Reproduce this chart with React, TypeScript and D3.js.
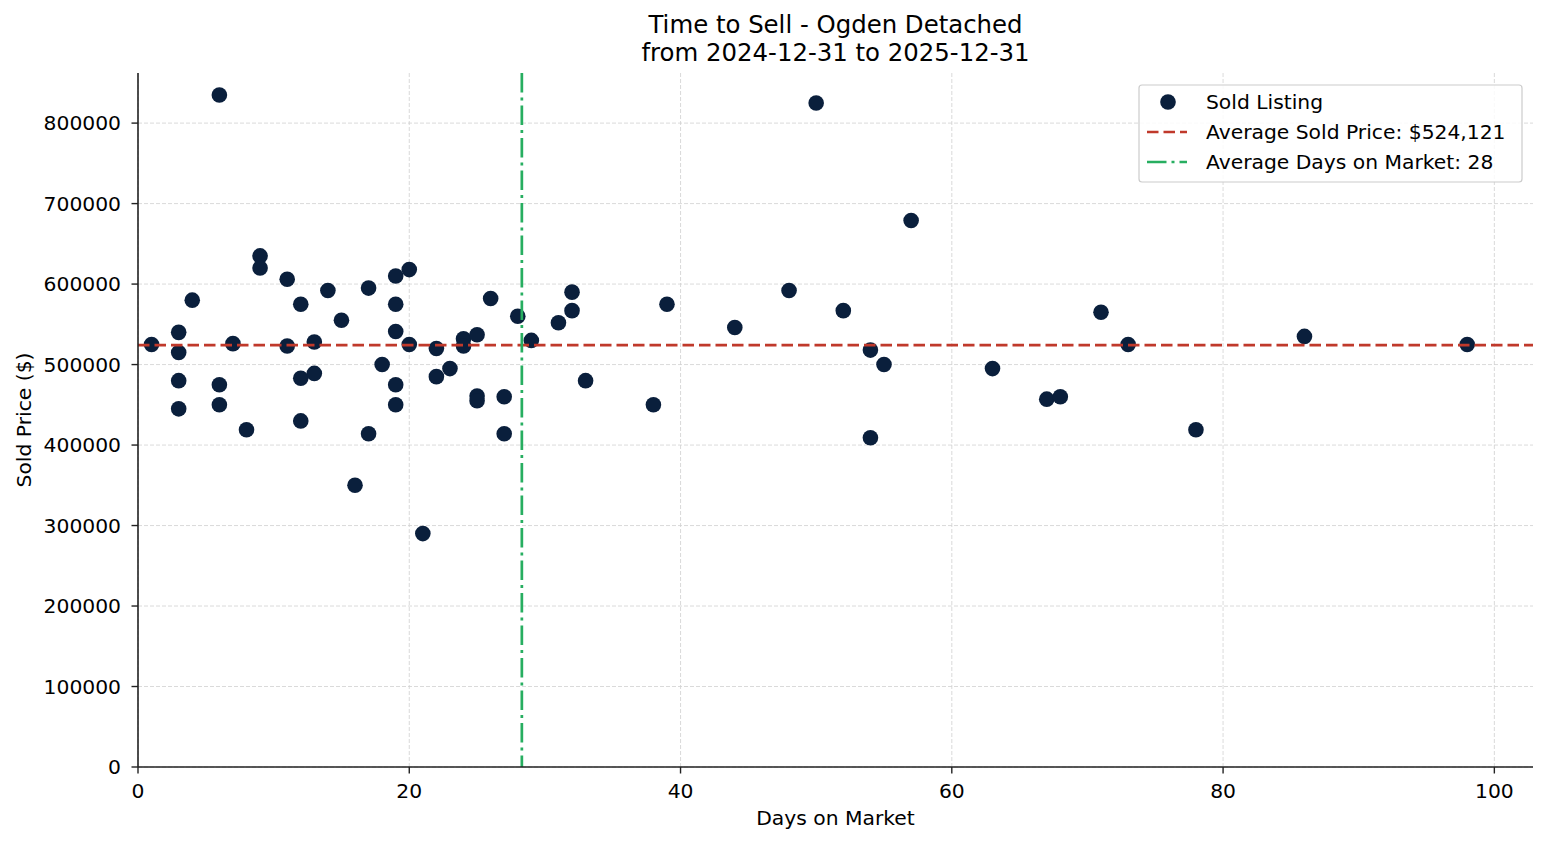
import React from "react";
import * as d3 from "d3";

const days: number[] = [
  1, 3, 3, 3, 3, 4, 6, 6, 6, 7, 8, 9, 9, 11, 11, 12, 12, 12, 13, 13, 14, 15, 16, 17, 17, 18,
  19, 19, 19, 19, 19, 20, 20, 21, 22, 22, 23, 24, 24, 25, 25, 25, 26, 27, 27, 28, 29, 31, 32, 32,
  33, 38, 39, 44, 48, 50, 52, 54, 54, 55, 57, 63, 67, 68, 71, 73, 78, 86, 98,
];
const prices: number[] = [
  525000, 540000, 515000, 480000, 445000, 580000, 835000, 475000, 450000, 526000, 419000, 635000,
  620000, 606000, 523000, 575000, 483000, 430000, 528000, 489000, 592000, 555000, 350000, 595000,
  414000, 500000, 610000, 575000, 541000, 475000, 450000, 618000, 525000, 290000, 520000, 485000,
  495000, 532000, 523000, 537000, 461000, 455000, 582000, 460000, 414000, 560000, 530000, 552000,
  590000, 567000, 480000, 450000, 575000, 546000, 592000, 825000, 567000, 518000, 409000, 500000,
  679000, 495000, 457000, 460000, 565000, 525000, 419000, 535000, 525000,
];
const avgPrice = 524121;
const avgDays = 28.3;
const xTicks: number[] = [0, 20, 40, 60, 80, 100];
const yTicks: number[] = [0, 100000, 200000, 300000, 400000, 500000, 600000, 700000, 800000];
const legendLabels: string[] = [
  "Sold Listing",
  "Average Sold Price: $524,121",
  "Average Days on Market: 28",
];

const W = 1547;
const H = 845;
const L = 138;
const R = 1533;
const T = 73;
const B = 767;
const FONT = "'DejaVu Sans', sans-serif";
const FS = 20.3;
const TFS = 24.4;
const DOT = "#0a1f3c";
const RED = "#c0392b";
const GREEN = "#27ae60";
const RED_DASH = "11.5,5";
const GREEN_DASH = "19.5,5,3,5";
const LW = 2.7;

export default function App() {
  const x = d3.scaleLinear().domain([0, 102.85]).range([L, R]);
  const y = d3.scaleLinear().domain([0, 862250]).range([B, T]);
  const pts = days.map((d, i) => ({ d, p: prices[i] }));

  return (
    <svg
      width={W}
      height={H}
      style={{ position: "absolute", left: 0, top: 0, background: "#fff" }}
      fontFamily={FONT}
    >
      {/* grid */}
      {xTicks.map((t) => (
        <line key={"gx" + t} x1={x(t)} x2={x(t)} y1={T} y2={B} stroke="#d0d0d0" strokeWidth={0.8} strokeDasharray="4,2" />
      ))}
      {yTicks.map((t) => (
        <line key={"gy" + t} x1={L} x2={R} y1={y(t)} y2={y(t)} stroke="#d0d0d0" strokeWidth={0.8} strokeDasharray="4,2" />
      ))}

      {/* points */}
      {pts.map((p, i) => (
        <circle key={i} cx={x(p.d)} cy={y(p.p)} r={7.8} fill={DOT} />
      ))}

      {/* avg lines */}
      <line x1={L} x2={R} y1={y(avgPrice)} y2={y(avgPrice)} stroke={RED} strokeWidth={LW} strokeDasharray={RED_DASH} />
      <line x1={x(avgDays)} x2={x(avgDays)} y1={T} y2={B} stroke={GREEN} strokeWidth={LW} strokeDasharray={GREEN_DASH} />

      {/* spines */}
      <line x1={L} x2={L} y1={T} y2={B} stroke="#222" strokeWidth={1.6} />
      <line x1={L} x2={R} y1={B} y2={B} stroke="#222" strokeWidth={1.6} />

      {/* x ticks */}
      {xTicks.map((t) => (
        <g key={"xt" + t}>
          <line x1={x(t)} x2={x(t)} y1={B} y2={B + 6.5} stroke="#222" strokeWidth={1.4} />
          <text x={x(t)} y={798} textAnchor="middle" fontSize={FS} fill="#000">
            {t}
          </text>
        </g>
      ))}
      {/* y ticks */}
      {yTicks.map((t) => (
        <g key={"yt" + t}>
          <line x1={L - 6.5} x2={L} y1={y(t)} y2={y(t)} stroke="#222" strokeWidth={1.4} />
          <text x={L - 17} y={y(t)} dy="0.36em" textAnchor="end" fontSize={FS} fill="#000">
            {t}
          </text>
        </g>
      ))}

      {/* axis labels */}
      <text x={(L + R) / 2} y={825} textAnchor="middle" fontSize={FS} fill="#000">
        Days on Market
      </text>
      <text transform={`translate(31,${(T + B) / 2}) rotate(-90)`} textAnchor="middle" fontSize={FS} fill="#000">
        Sold Price ($)
      </text>

      {/* title */}
      <text x={(L + R) / 2} y={33} textAnchor="middle" fontSize={TFS} fill="#000">
        Time to Sell - Ogden Detached
      </text>
      <text x={(L + R) / 2} y={61} textAnchor="middle" fontSize={TFS} fill="#000">
        from 2024-12-31 to 2025-12-31
      </text>

      {/* legend */}
      <g>
        <rect x={1139} y={85} width={383} height={97} rx={3} fill="#fff" fillOpacity={0.85} stroke="#ccc" strokeWidth={1.2} />
        <circle cx={1168} cy={102} r={7.8} fill={DOT} />
        <line x1={1147} x2={1187} y1={132} y2={132} stroke={RED} strokeWidth={LW} strokeDasharray={RED_DASH} />
        <line x1={1147} x2={1187} y1={162} y2={162} stroke={GREEN} strokeWidth={LW} strokeDasharray={GREEN_DASH} />
        {legendLabels.map((s, i) => (
          <text key={s} x={1206} y={102 + i * 30} dy="0.36em" fontSize={FS} fill="#000">
            {s}
          </text>
        ))}
      </g>
    </svg>
  );
}
